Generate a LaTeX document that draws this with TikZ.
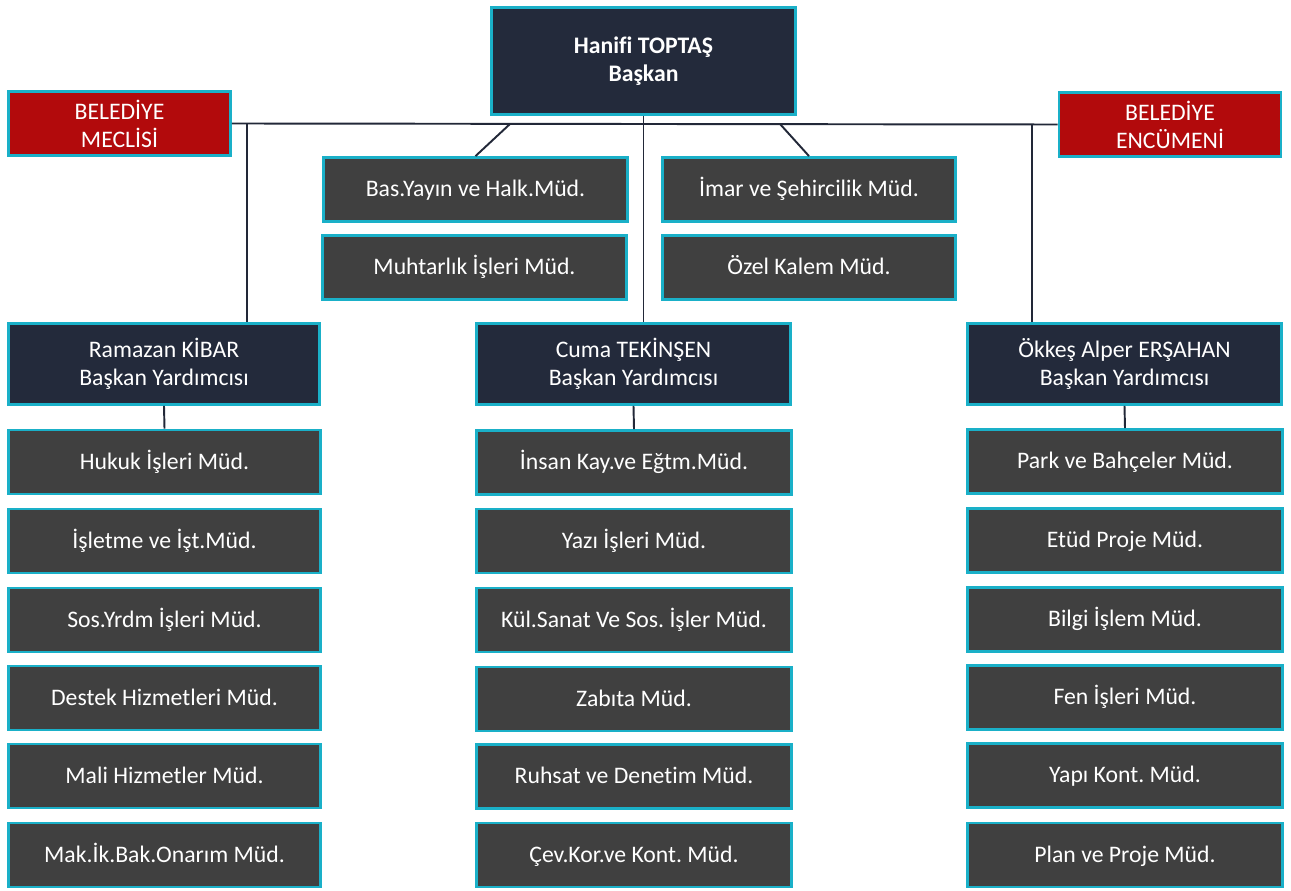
\documentclass[tikz,border=0pt]{standalone}
\usepackage{fontspec}
\setmainfont[Ligatures=NoCommon]{Carlito}
\definecolor{lacivert}{HTML}{232A3B}
\definecolor{gri}{HTML}{404040}
\definecolor{kirmizi}{HTML}{B20A0C}
\definecolor{turkuaz}{HTML}{1AB0C8}
\definecolor{hat}{HTML}{222838}
\tikzset{
  kutu/.style={draw=turkuaz,line width=1.6pt,text=white,align=center,inner sep=0pt,
    font=\fontsize{13.5}{16}\selectfont},
  baskan/.style={kutu,fill=lacivert,font=\fontsize{13.5}{16}\selectfont\bfseries},
  yardimci/.style={kutu,fill=lacivert,minimum height=1.62cm},
  kurul/.style={kutu,fill=kirmizi,minimum width=4.44cm,minimum height=1.28cm},
  birim/.style={kutu,fill=gri,minimum height=1.28cm,text height=1.9ex,text depth=0.2ex},
  hatcizgi/.style={draw=hat,line width=1.1pt}
}
\frenchspacing
\begin{document}
\begin{tikzpicture}[x=0.02cm,y=-0.02cm]
    \useasboundingbox (0,0) rectangle (1291,891);
    % baskan ve kurullar
    \node[baskan,minimum width=6.08cm,minimum height=2.14cm] (baskan) at (643.5,61) {Hanifi TOPTAŞ\\Başkan};
    \node[kurul] (meclis) at (119.5,123.5) {BELEDİYE\\MECLİSİ};
    \node[kurul] (encumen) at (1170,124.5) {BELEDİYE\\ENCÜMENİ};
    % baskana bagli birimler
    \node[birim,minimum width=6.08cm] (basyayin) at (475.5,189.5) {Bas.Yayın ve Halk.Müd.};
    \node[birim,minimum width=6.08cm] (muhtarlik) at (474.5,267.5) {Muhtarlık İşleri Müd.};
    \node[birim,minimum width=5.86cm] (imar) at (809,189.5) {İmar ve Şehircilik Müd.};
    \node[birim,minimum width=5.86cm] (ozelkalem) at (809,267.5) {Özel Kalem Müd.};
    % baskan yardimcilari
    \node[yardimci,minimum width=6.22cm] (ramazan) at (164,364) {Ramazan KİBAR\\Başkan Yardımcısı};
    \node[yardimci,minimum width=6.28cm] (cuma) at (633.5,364) {Cuma TEKİNŞEN\\Başkan Yardımcısı};
    \node[yardimci,minimum width=6.28cm] (okkes) at (1124.5,364) {Ökkeş Alper ERŞAHAN\\Başkan Yardımcısı};
    % sol sutun
    \node[birim,minimum width=6.24cm] (hukuk) at (164.5,462) {Hukuk İşleri Müd.};
    \node[birim,minimum width=6.24cm] (isletme) at (164.5,541) {İşletme ve İşt.Müd.};
    \node[birim,minimum width=6.24cm] (sosyrdm) at (164.5,620) {Sos.Yrdm İşleri Müd.};
    \node[birim,minimum width=6.24cm] (destek) at (164.5,698) {Destek Hizmetleri Müd.};
    \node[birim,minimum width=6.24cm] (mali) at (164.5,776) {Mali Hizmetler Müd.};
    \node[birim,minimum width=6.24cm] (makik) at (164.5,855) {Mak.İk.Bak.Onarım Müd.};
    % orta sutun
    \node[birim,minimum width=6.30cm] (insan) at (634,462.5) {İnsan Kay.ve Eğtm.Müd.};
    \node[birim,minimum width=6.30cm] (yazi) at (634,541) {Yazı İşleri Müd.};
    \node[birim,minimum width=6.30cm] (kulsanat) at (634,620) {Kül.Sanat Ve Sos. İşler Müd.};
    \node[birim,minimum width=6.30cm] (zabita) at (634,699) {Zabıta Müd.};
    \node[birim,minimum width=6.30cm] (ruhsat) at (634,776.5) {Ruhsat ve Denetim Müd.};
    \node[birim,minimum width=6.30cm] (cevkor) at (634,855) {Çev.Kor.ve Kont. Müd.};
    % sag sutun
    \node[birim,minimum width=6.30cm] (park) at (1125,461.5) {Park ve Bahçeler Müd.};
    \node[birim,minimum width=6.30cm] (etud) at (1125,540.5) {Etüd Proje Müd.};
    \node[birim,minimum width=6.30cm] (bilgi) at (1125,619.5) {Bilgi İşlem Müd.};
    \node[birim,minimum width=6.30cm] (fen) at (1125,697.5) {Fen İşleri Müd.};
    \node[birim,minimum width=6.30cm] (yapi) at (1125,775.5) {Yapı Kont. Müd.};
    \node[birim,minimum width=6.30cm] (plan) at (1125,855) {Plan ve Proje Müd.};
    % baglantilar
    \coordinate (b1) at (510,124);
    \coordinate (b2) at (780,124);
    \coordinate (b3) at (247,124);
    \coordinate (b4) at (1032,124);
    \draw[hatcizgi] (meclis.east) -- (encumen.west);
    \draw[hatcizgi] (baskan.south) -- (baskan.south |- cuma.north);
    \draw[hatcizgi] (b1) -- (basyayin.north);
    \draw[hatcizgi] (b2) -- (imar.north);
    \draw[hatcizgi] (b3) -- (b3 |- ramazan.north);
    \draw[hatcizgi] (b4) -- (b4 |- okkes.north);
    \draw[hatcizgi] (ramazan.south) -- (hukuk.north);
    \draw[hatcizgi] (cuma.south) -- (insan.north);
    \draw[hatcizgi] (okkes.south) -- (park.north);
\end{tikzpicture}
\end{document}
